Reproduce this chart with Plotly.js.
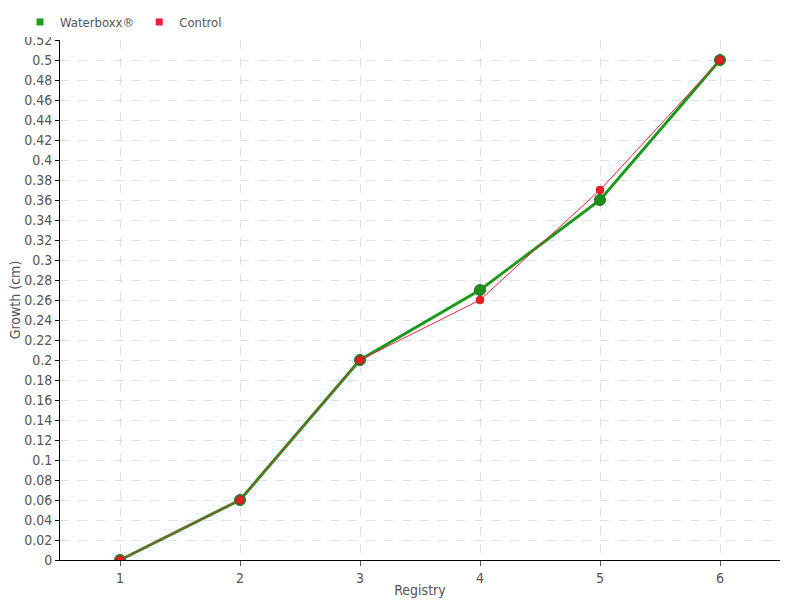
<!DOCTYPE html>
<html><head><meta charset="utf-8">
<script src="https://cdn.plot.ly/plotly-3.0.1.min.js"></script>
<style>html,body{margin:0;padding:0;background:#fff}</style>
</head><body>
<div id="chart" style="width:800px;height:600px"></div>
<script>
const registry = [1, 2, 3, 4, 5, 6];
const waterboxx = [0, 0.06, 0.2, 0.27, 0.36, 0.5];
const control = [0, 0.06, 0.2, 0.26, 0.37, 0.5];
const seriesNames = ['Waterboxx®', 'Control'];

const FONT = 'DejaVu Sans Condensed, Liberation Sans Narrow, sans-serif';
const traces = [
  {x: registry, y: waterboxx, mode: 'lines+markers', name: seriesNames[0], showlegend: false,
   line: {color: '#1a9a1a', width: 3}, marker: {color: '#1a8f1a', size: 11, line: {color: '#2a6a2a', width: 1}}},
  {x: registry, y: control, mode: 'lines+markers', name: seriesNames[1], showlegend: false,
   line: {color: '#f0203a', width: 1}, marker: {color: '#ee1c25', size: 8, line: {color: '#b01020', width: 0.5}}},
  {x: [null], y: [null], mode: 'markers', name: seriesNames[0], marker: {symbol: 'square', color: '#1aa01a', size: 7}},
  {x: [null], y: [null], mode: 'markers', name: seriesNames[1], marker: {symbol: 'square', color: '#ee1c3a', size: 7}}
];
const layout = {
  width: 800, height: 600,
  margin: {l: 60, r: 20, t: 40, b: 40},
  paper_bgcolor: '#fff', plot_bgcolor: '#fff',
  font: {family: FONT, size: 14, color: '#555'},
  showlegend: true,
  legend: {orientation: 'h', xref: 'container', yref: 'container', x: 20/800, xanchor: 'left', y: 1 - 22/600, yanchor: 'middle',
    font: {size: 13, color: '#555'}, itemwidth: 30, tracegroupgap: 0},
  xaxis: {range: [0.5, 6.5], tickvals: registry, ticktext: registry.map(String), showline: true, linecolor: '#000', linewidth: 1,
    ticks: 'outside', ticklen: 5, tickcolor: '#555', showgrid: true, gridcolor: '#e0e0e0', griddash: 'dash', zeroline: false,
    title: {text: 'Registry', standoff: 0, font: {size: 14, color: '#555'}}},
  yaxis: {range: [0, 0.52], dtick: 0.02, tick0: 0, showline: true, linecolor: '#000', linewidth: 1,
    ticks: 'outside', ticklen: 4, tickcolor: '#000', showgrid: true, gridcolor: '#e0e0e0', griddash: 'dash', zeroline: false,
    title: {text: 'Growth (cm)', standoff: 0, font: {size: 14, color: '#555'}}}
};
Plotly.newPlot('chart', traces, layout, {displayModeBar: false});
</script>
</body></html>
